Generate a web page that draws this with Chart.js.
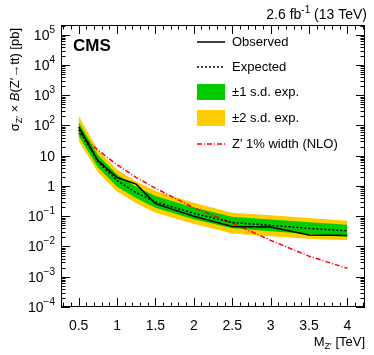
<!DOCTYPE html>
<html lang="en">
<head>
    <meta charset="UTF-8">
    <title>Z' -> tt limits</title>
    <script src="https://cdnjs.cloudflare.com/ajax/libs/Chart.js/4.4.1/chart.umd.min.js"></script>
    <style>
        body {
            margin: 0;
            padding: 0;
            background-color: white;
        }
        .wrap {
            width: 374px;
            height: 355px;
        }
    </style>
</head>
<body>
    <div class="wrap">
        <canvas id="limitChart" width="374" height="355"></canvas>
    </div>

    <script>
        // Mass points (TeV) and limits (pb)
        const massPoints = [0.5, 0.75, 1.0, 1.25, 1.5, 2.0, 2.5, 3.0, 3.5, 4.0];
        const observed   = [90, 7.0, 1.9, 1.15, 0.26, 0.10, 0.046, 0.044, 0.024, 0.023];
        const expected   = [72, 6.5, 1.5, 0.6, 0.3, 0.125, 0.062, 0.05, 0.04, 0.033];
        const up1sd      = [130, 10.5, 2.4, 0.95, 0.47, 0.195, 0.097, 0.078, 0.063, 0.052];
        const down1sd    = [45, 4.2, 0.95, 0.39, 0.19, 0.08, 0.040, 0.032, 0.026, 0.021];
        const up2sd      = [210, 15.5, 3.5, 1.4, 0.68, 0.28, 0.13, 0.107, 0.087, 0.071];
        const down2sd    = [31, 2.9, 0.66, 0.27, 0.13, 0.056, 0.027, 0.022, 0.018, 0.016];

        // Z' 1% width (NLO) theory curve
        const theoryMass = [0.5, 0.75, 1.0, 1.25, 1.5, 2.0, 2.5, 3.0, 3.5, 4.0];
        const theoryXsec = [56, 15.5, 5.0, 1.9, 0.85, 0.19, 0.06, 0.016, 0.0048, 0.0019];

        // Axis ticks
        const xTickValues = [0.5, 1, 1.5, 2, 2.5, 3, 3.5, 4];
        const xTickLabels = ['0.5', '1', '1.5', '2', '2.5', '3', '3.5', '4'];
        const yTickValues = [1e5, 1e4, 1e3, 1e2, 10, 1, 0.1, 0.01, 1e-3, 1e-4];
        const yTickBase   = ['10', '10', '10', '10', '10', '1', '10', '10', '10', '10'];
        const yTickExp    = ['5', '4', '3', '2', '', '', '\u22121', '\u22122', '\u22123', '\u22124'];

        const legendLabels = ['Observed', 'Expected', '\u00b11 s.d. exp.', '\u00b12 s.d. exp.', "Z' 1% width (NLO)"];

        const GREEN = '#00cc00';
        const YELLOW = '#ffcc00';
        const FONT = '"Liberation Sans", Arial, sans-serif';

        function pts(xs, ys) {
            return xs.map((x, i) => ({ x: x, y: ys[i] }));
        }

        // draws a run of text pieces (for sub/superscripts)
        function drawRich(ctx, parts, x, y, align) {
            let total = 0;
            parts.forEach(p => {
                ctx.font = (p.style || '') + ' ' + p.size + 'px ' + FONT;
                p.w = ctx.measureText(p.t).width;
                total += p.w;
            });
            let cx = align === 'right' ? x - total : (align === 'center' ? x - total / 2 : x);
            ctx.textAlign = 'left';
            ctx.textBaseline = 'alphabetic';
            parts.forEach(p => {
                ctx.font = (p.style || '') + ' ' + p.size + 'px ' + FONT;
                ctx.fillText(p.t, cx, y + (p.dy || 0));
                cx += p.w;
            });
        }

        const frameAndText = {
            id: 'frameAndText',
            beforeDraw(chart) {
                const ctx = chart.ctx;
                ctx.save();
                ctx.fillStyle = 'white';
                ctx.fillRect(0, 0, chart.width, chart.height);
                ctx.restore();
            },
            afterDatasetsDraw(chart) {
                const ctx = chart.ctx;
                const area = chart.chartArea;
                const xs = chart.scales.x;
                const ys = chart.scales.y;
                ctx.save();
                ctx.strokeStyle = 'black';
                ctx.fillStyle = 'black';
                ctx.lineWidth = 1;

                // frame
                ctx.strokeRect(area.left + 0.5, area.top + 0.5, area.right - area.left - 1, area.bottom - area.top - 1);

                // x ticks every 0.1, major every 0.5
                ctx.beginPath();
                for (let k = 3; k <= 42; k++) {
                    const v = k / 10;
                    const px = Math.round(xs.getPixelForValue(v)) + 0.5;
                    const len = (k % 5 === 0) ? 9 : 4.5;
                    ctx.moveTo(px, area.bottom);
                    ctx.lineTo(px, area.bottom - len);
                    ctx.moveTo(px, area.top);
                    ctx.lineTo(px, area.top + len);
                }
                // y ticks, decades and 2..9
                for (let d = -4; d <= 5; d++) {
                    for (let m = 1; m <= 9; m++) {
                        const v = m * Math.pow(10, d);
                        if (v > ys.max) continue;
                        const py = Math.round(ys.getPixelForValue(v)) + 0.5;
                        const len = (m === 1) ? 9 : 4.5;
                        ctx.moveTo(area.left, py);
                        ctx.lineTo(area.left + len, py);
                        ctx.moveTo(area.right, py);
                        ctx.lineTo(area.right - len, py);
                    }
                }
                ctx.stroke();

                // x tick labels
                ctx.font = '14px ' + FONT;
                ctx.textAlign = 'center';
                ctx.textBaseline = 'alphabetic';
                xTickValues.forEach((v, i) => {
                    ctx.fillText(xTickLabels[i], xs.getPixelForValue(v), area.bottom + 23);
                });

                // y tick labels
                yTickValues.forEach((v, i) => {
                    const py = ys.getPixelForValue(v);
                    const parts = [{ t: yTickBase[i], size: 14 }];
                    if (yTickExp[i]) parts.push({ t: yTickExp[i], size: 10, dy: -7 });
                    drawRich(ctx, parts, area.left - 6, py + 5, 'right');
                });

                // axis titles
                drawRich(ctx, [
                    { t: 'M', size: 13 },
                    { t: 'Z\u2032', size: 9, dy: 3 },
                    { t: ' [TeV]', size: 13 }
                ], area.right, 346, 'right');

                ctx.save();
                ctx.translate(19, area.top + 3);
                ctx.rotate(-Math.PI / 2);
                drawRich(ctx, [
                    { t: '\u03c3', size: 13 },
                    { t: 'Z\u2032', size: 9, dy: 3 },
                    { t: ' \u00d7 ', size: 13 },
                    { t: 'B', size: 13, style: 'italic' },
                    { t: '(Z\u2032\u2192tt) [pb]', size: 13 }
                ], 0, 0, 'right');
                ctx.restore();

                // header texts
                drawRich(ctx, [
                    { t: '2.6 fb', size: 14 },
                    { t: '-1', size: 10, dy: -6 },
                    { t: ' (13 TeV)', size: 14 }
                ], area.right + 2, 19, 'left' === 'x' ? 'left' : 'right');
                drawRich(ctx, [{ t: 'CMS', size: 17, style: 'bold' }], area.left + 12, 51, 'left');

                // legend
                const lx = 197, lw = 28, tx = 232;
                const rows = [42, 67, 92, 118, 144];
                ctx.font = '13px ' + FONT;
                ctx.textAlign = 'left';
                ctx.textBaseline = 'middle';
                legendLabels.forEach((lab, i) => ctx.fillText(lab, tx, rows[i]));

                ctx.lineWidth = 1.5;
                ctx.strokeStyle = 'black';
                ctx.beginPath();
                ctx.moveTo(lx, rows[0]);
                ctx.lineTo(lx + lw, rows[0]);
                ctx.stroke();
                ctx.setLineDash([2, 2]);
                ctx.beginPath();
                ctx.moveTo(lx, rows[1]);
                ctx.lineTo(lx + lw, rows[1]);
                ctx.stroke();
                ctx.setLineDash([]);
                ctx.fillStyle = GREEN;
                ctx.fillRect(lx, rows[2] - 8, lw, 16);
                ctx.fillStyle = YELLOW;
                ctx.fillRect(lx, rows[3] - 8, lw, 16);
                ctx.strokeStyle = 'red';
                ctx.setLineDash([5, 2, 1, 2]);
                ctx.beginPath();
                ctx.moveTo(lx, rows[4]);
                ctx.lineTo(lx + lw, rows[4]);
                ctx.stroke();
                ctx.restore();
            }
        };

        const ctx = document.getElementById('limitChart').getContext('2d');
        new Chart(ctx, {
            type: 'line',
            data: {
                datasets: [
                    {
                        label: '+2 s.d.',
                        data: pts(massPoints, up2sd),
                        borderWidth: 0,
                        pointRadius: 0,
                        backgroundColor: YELLOW,
                        fill: '+1',
                        order: 6
                    },
                    {
                        label: '-2 s.d.',
                        data: pts(massPoints, down2sd),
                        borderWidth: 0,
                        pointRadius: 0,
                        fill: false,
                        order: 5
                    },
                    {
                        label: '+1 s.d.',
                        data: pts(massPoints, up1sd),
                        borderWidth: 0,
                        pointRadius: 0,
                        backgroundColor: GREEN,
                        fill: '+1',
                        order: 4
                    },
                    {
                        label: '-1 s.d.',
                        data: pts(massPoints, down1sd),
                        borderWidth: 0,
                        pointRadius: 0,
                        fill: false,
                        order: 3
                    },
                    {
                        label: "Z' 1% width (NLO)",
                        data: pts(theoryMass, theoryXsec),
                        borderColor: 'red',
                        borderWidth: 1.5,
                        borderDash: [5, 2, 1, 2],
                        pointRadius: 0,
                        fill: false,
                        order: 2
                    },
                    {
                        label: 'Expected',
                        data: pts(massPoints, expected),
                        borderColor: 'black',
                        borderWidth: 1.5,
                        borderDash: [2, 2],
                        pointRadius: 0,
                        fill: false,
                        order: 1
                    },
                    {
                        label: 'Observed',
                        data: pts(massPoints, observed),
                        borderColor: 'black',
                        borderWidth: 1.5,
                        pointRadius: 0,
                        fill: false,
                        order: 0
                    }
                ]
            },
            options: {
                responsive: false,
                animation: false,
                events: [],
                layout: {
                    padding: { left: 61, right: 9, top: 25, bottom: 48 }
                },
                plugins: {
                    legend: { display: false },
                    tooltip: { enabled: false }
                },
                scales: {
                    x: {
                        type: 'linear',
                        min: 0.27,
                        max: 4.23,
                        display: false
                    },
                    y: {
                        type: 'logarithmic',
                        min: 1e-4,
                        max: 2.1e5,
                        display: false
                    }
                }
            },
            plugins: [frameAndText]
        });
    </script>
</body>
</html>
